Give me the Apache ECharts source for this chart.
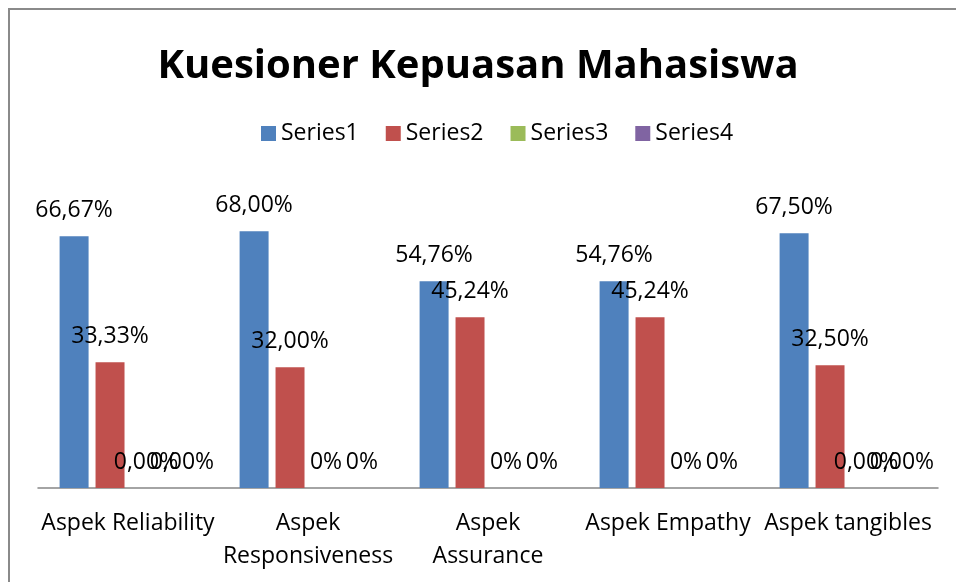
<!DOCTYPE html>
<html>
<head>
<meta charset="utf-8">
<script src="https://cdn.jsdelivr.net/npm/echarts@6/dist/echarts.min.js"></script>
<style>
  html, body { margin: 0; padding: 0; background: #fff; }
  #chart { width: 956px; height: 582px; }
</style>
</head>
<body>
<div id="chart"></div>
<script>
// data kuesioner
var categories = ['Aspek Reliability', 'Aspek\nResponsiveness', 'Aspek\nAssurance', 'Aspek Empathy', 'Aspek tangibles'];
var seriesNames = ['Series1', 'Series2', 'Series3', 'Series4'];
var series1 = [66.67, 68.00, 54.76, 54.76, 67.50];
var series2 = [33.33, 32.00, 45.24, 45.24, 32.50];
var series3 = [0, 0, 0, 0, 0];
var series4 = [0, 0, 0, 0, 0];
// jumlah desimal label per kategori (seperti di excel, ada yang "0%" ada yang "0,00%")
var series1Dec = [2, 2, 2, 2, 2];
var series2Dec = [2, 2, 2, 2, 2];
var series3Dec = [2, 0, 0, 0, 2];
var series4Dec = [2, 0, 0, 0, 2];
var yMax = 80;

var colors = ['#4F81BD', '#C0504D', '#9BBB59', '#8064A2'];
var font = 'Open Sans';

function makeSeries(name, data, dec, color) {
    return {
        name: name,
        type: 'bar',
        data: data,
        barGap: '24%',
        barCategoryGap: '24%',
        itemStyle: { color: color },
        label: {
            show: true,
            position: 'top',
            distance: 16,
            color: '#000',
            fontFamily: font,
            fontSize: 23,
            lineHeight: 20,
            formatter: function (p) {
                return p.value.toFixed(dec[p.dataIndex]).replace('.', ',') + '%';
            }
        }
    };
}

var myChart = echarts.init(document.getElementById('chart'));
var option = {
    backgroundColor: '#fff',
    animation: false,
    title: {
        text: 'Kuesioner Kepuasan Mahasiswa',
        left: 'center',
        top: 39,
        textStyle: {
            fontFamily: font,
            fontWeight: 'bold',
            fontSize: 40,
            lineHeight: 46,
            color: '#000'
        }
    },
    legend: {
        data: seriesNames,
        top: 117,
        left: 256,
        itemWidth: 15,
        itemHeight: 15,
        itemGap: 27,
        icon: 'rect',
        textStyle: { fontFamily: font, fontSize: 23, color: '#000' }
    },
    grid: { left: 38, right: 18, top: 186, bottom: 94 },
    xAxis: {
        type: 'category',
        data: categories,
        axisLine: { lineStyle: { color: '#868686', width: 1.5 } },
        axisTick: { show: false },
        axisLabel: {
            interval: 0,
            margin: 19,
            color: '#000',
            fontFamily: font,
            fontSize: 23,
            lineHeight: 33
        }
    },
    yAxis: {
        type: 'value',
        min: 0,
        max: yMax,
        show: false,
        splitLine: { show: false }
    },
    graphic: [{
        type: 'rect',
        shape: { x: 9, y: 9, width: 980, height: 620 },
        style: { fill: 'none', stroke: '#8a8a8a', lineWidth: 2 },
        silent: true
    }],
    series: [
        makeSeries(seriesNames[0], series1, series1Dec, colors[0]),
        makeSeries(seriesNames[1], series2, series2Dec, colors[1]),
        makeSeries(seriesNames[2], series3, series3Dec, colors[2]),
        makeSeries(seriesNames[3], series4, series4Dec, colors[3])
    ]
};
myChart.setOption(option);

window.onresize = function () {
    myChart.resize();
};
</script>
</body>
</html>
